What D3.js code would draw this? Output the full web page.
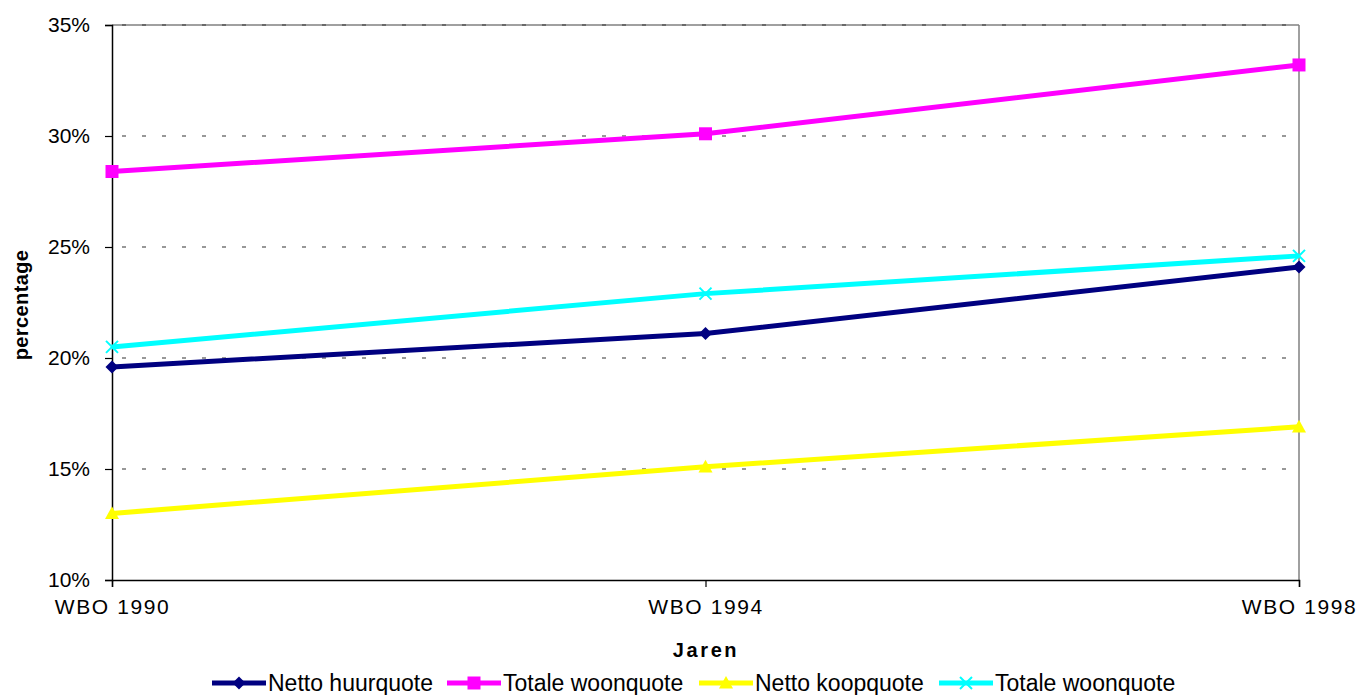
<!DOCTYPE html>
<html>
<head>
<meta charset="utf-8">
<script src="https://cdn.jsdelivr.net/npm/d3@7"></script>
<style>
  html, body { margin: 0; padding: 0; background: #fff; }
  svg { display: block; font-family: Arial, "Liberation Sans", sans-serif; }
</style>
</head>
<body>
<svg id="chart" width="1360" height="695"></svg>
<script>
// Survey years on the x axis
const categories = ["WBO 1990", "WBO 1994", "WBO 1998"];
// Housing cost ratios per series (share of income)
const nettoHuurquote  = [0.196, 0.211, 0.241];
const totaleWoonquote = [0.284, 0.301, 0.332];
const nettoKoopquote  = [0.130, 0.151, 0.169];
const totaleWoonquote2 = [0.205, 0.229, 0.246];
const seriesNames = ["Netto huurquote", "Totale woonquote", "Netto koopquote", "Totale woonquote"];
const yTicks = [0.10, 0.15, 0.20, 0.25, 0.30, 0.35];

const series = [
  { name: seriesNames[0], values: nettoHuurquote,  color: "#000080", marker: "diamond" },
  { name: seriesNames[1], values: totaleWoonquote, color: "#FF00FF", marker: "square" },
  { name: seriesNames[2], values: nettoKoopquote,  color: "#FFFF00", marker: "triangle" },
  { name: seriesNames[3], values: totaleWoonquote2, color: "#00FFFF", marker: "cross" }
];

const svg = d3.select("#chart");
const plotLeft = 112, plotRight = 1299, plotTop = 25, plotBottom = 580;

const x = d3.scalePoint().domain(categories).range([plotLeft, plotRight]);
const y = d3.scaleLinear().domain([0.10, 0.35]).range([plotBottom, plotTop]);

// Plot frame (top and right edges in gray)
svg.append("line").attr("x1", plotLeft).attr("x2", plotRight).attr("y1", plotTop).attr("y2", plotTop)
  .attr("stroke", "#808080").attr("stroke-width", 1.5);
svg.append("line").attr("x1", plotRight).attr("x2", plotRight).attr("y1", plotTop).attr("y2", plotBottom)
  .attr("stroke", "#808080").attr("stroke-width", 1.5);

// Dashed horizontal gridlines
svg.append("g").selectAll("line")
  .data(yTicks.filter(t => t > 0.10))
  .join("line")
  .attr("x1", plotLeft).attr("x2", plotRight)
  .attr("y1", d => y(d)).attr("y2", d => y(d))
  .attr("stroke", "#333").attr("stroke-width", 1.2)
  .attr("stroke-dasharray", "4,16")
  .attr("stroke-dashoffset", -10);

// Y axis
const yAxis = d3.axisLeft(y).tickValues(yTicks).tickFormat(d3.format(".0%"))
  .tickSize(7).tickPadding(15);
const gy = svg.append("g").attr("transform", `translate(${plotLeft},0)`).call(yAxis);
gy.select(".domain").attr("stroke", "#000").attr("stroke-width", 1.5);
gy.selectAll(".tick line").attr("stroke", "#000").attr("stroke-width", 1.2);
gy.selectAll(".tick text").attr("font-size", 21).attr("fill", "#000")
  .attr("font-family", "Arial, 'Liberation Sans', sans-serif");

// X axis
const xAxis = d3.axisBottom(x).tickSize(7).tickPadding(12);
const gx = svg.append("g").attr("transform", `translate(0,${plotBottom})`).call(xAxis);
gx.select(".domain").attr("stroke", "#000").attr("stroke-width", 1.5);
gx.selectAll(".tick line").attr("stroke", "#000").attr("stroke-width", 1.2);
gx.selectAll(".tick text").attr("font-size", 21).attr("fill", "#000")
  .attr("letter-spacing", 1.6)
  .attr("font-family", "Arial, 'Liberation Sans', sans-serif");

// Axis titles
svg.append("text").attr("x", 706).attr("y", 657).attr("text-anchor", "middle")
  .attr("font-size", 20).attr("font-weight", "bold").attr("letter-spacing", 2.6)
  .text("Jaren");
svg.append("text").attr("transform", "translate(28,305) rotate(-90)")
  .attr("text-anchor", "middle").attr("font-size", 20).attr("font-weight", "bold")
  .attr("letter-spacing", 0.4)
  .text("percentage");

// Marker shapes
function markerPath(kind, s) {
  const h = s / 2;
  switch (kind) {
    case "diamond": return `M0,${-h}L${h},0L0,${h}L${-h},0Z`;
    case "square": return `M${-h},${-h}H${h}V${h}H${-h}Z`;
    case "triangle": return `M0,${-h}L${h},${h * 0.8}L${-h},${h * 0.8}Z`;
    case "cross": return `M${-h},${-h}L${h},${h}M${h},${-h}L${-h},${h}`;
  }
}
const markerSize = { diamond: 13, square: 13, triangle: 14, cross: 12 };

const line = d3.line().x((d, i) => x(categories[i])).y(d => y(d));

const gs = svg.append("g").selectAll("g").data(series).join("g");
gs.append("path")
  .attr("d", d => line(d.values))
  .attr("fill", "none").attr("stroke", d => d.color).attr("stroke-width", 5)
  .attr("stroke-linejoin", "round");
gs.each(function (s) {
  d3.select(this).selectAll("path.mk").data(s.values).join("path")
    .attr("class", "mk")
    .attr("transform", (d, i) => `translate(${x(categories[i])},${y(d)})`)
    .attr("d", markerPath(s.marker, markerSize[s.marker]))
    .attr("fill", s.marker === "cross" ? "none" : s.color)
    .attr("stroke", s.color)
    .attr("stroke-width", s.marker === "cross" ? 2 : 0);
});

// Legend
const legendX = [212, 447, 699, 939];
const lg = svg.append("g").selectAll("g").data(series).join("g")
  .attr("transform", (d, i) => `translate(${legendX[i]},683)`);
lg.append("line").attr("x1", 0).attr("x2", 54).attr("y1", 0).attr("y2", 0)
  .attr("stroke", d => d.color).attr("stroke-width", 5);
lg.append("path").attr("transform", "translate(27,0)")
  .attr("d", d => markerPath(d.marker, markerSize[d.marker]))
  .attr("fill", d => d.marker === "cross" ? "none" : d.color)
  .attr("stroke", d => d.color)
  .attr("stroke-width", d => d.marker === "cross" ? 2 : 0);
lg.append("text").attr("x", 56).attr("y", 8)
  .attr("font-size", 23).attr("fill", "#000")
  .text(d => d.name);
</script>
</body>
</html>
